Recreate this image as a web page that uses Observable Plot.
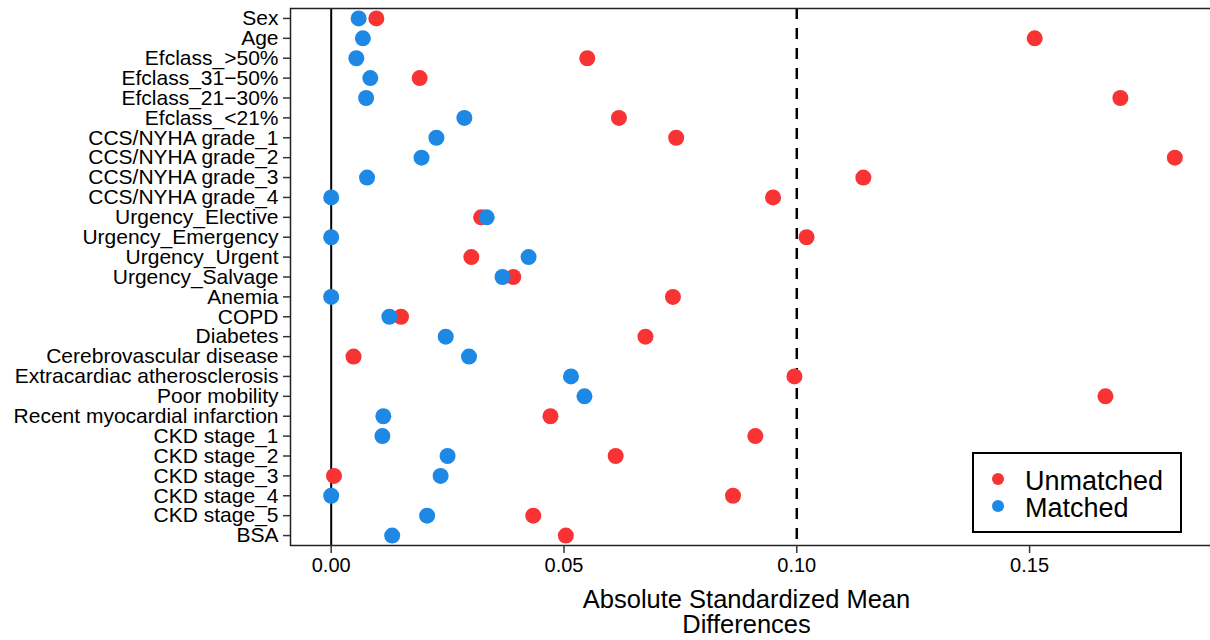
<!DOCTYPE html>
<html>
<head>
<meta charset="utf-8">
<script src="https://cdn.jsdelivr.net/npm/d3@7"></script>
<script src="https://cdn.jsdelivr.net/npm/@observablehq/plot@0.6"></script>
<style>
html, body { margin: 0; padding: 0; background: #fff; overflow: hidden; }
#wrap { position: relative; width: 1210px; height: 640px; overflow: hidden; font-family: "Liberation Sans", Arial, sans-serif; }
#wrap svg { display: block; max-width: none !important; }
.legend { position: absolute; left: 972px; top: 452px; width: 210px; height: 81px; box-sizing: border-box; border: 2px solid #000; background: #fff; }
.legend .dot { position: absolute; width: 12px; height: 12px; border-radius: 50%; }
.legend .lab { position: absolute; font-size: 27px; line-height: 26px; color: #000; white-space: nowrap; }
</style>
</head>
<body>
<div id="wrap"></div>
<script>
const variables = [
  "Sex", "Age", "Efclass_>50%", "Efclass_31−50%", "Efclass_21−30%", "Efclass_<21%",
  "CCS/NYHA grade_1", "CCS/NYHA grade_2", "CCS/NYHA grade_3", "CCS/NYHA grade_4",
  "Urgency_Elective", "Urgency_Emergency", "Urgency_Urgent", "Urgency_Salvage",
  "Anemia", "COPD", "Diabetes", "Cerebrovascular disease", "Extracardiac atherosclerosis",
  "Poor mobility", "Recent myocardial infarction", "CKD stage_1", "CKD stage_2",
  "CKD stage_3", "CKD stage_4", "CKD stage_5", "BSA"
];
const unmatched = [
  0.0097, 0.1511, 0.0550, 0.0190, 0.1695, 0.0618,
  0.0741, 0.1812, 0.1143, 0.0949,
  0.0322, 0.1021, 0.0301, 0.0391,
  0.0734, 0.0150, 0.0675, 0.0048, 0.0995,
  0.1663, 0.0471, 0.0911, 0.0611,
  0.0006, 0.0863, 0.0434, 0.0504
];
const matched = [
  0.0059, 0.0068, 0.0054, 0.0084, 0.0075, 0.0286,
  0.0226, 0.0194, 0.0077, 0.0000,
  0.0334, 0.0000, 0.0424, 0.0368,
  0.0000, 0.0125, 0.0246, 0.0296, 0.0515,
  0.0544, 0.0112, 0.0110, 0.0250,
  0.0235, 0.0000, 0.0206, 0.0131
];
const seriesNames = ["Unmatched", "Matched"];
const seriesColors = ["#F83333", "#1E88E5"];
const xTicks = [0, 0.05, 0.10, 0.15];
const threshold = 0.1;
const xLabel = "Absolute Standardized Mean\nDifferences";
const xDomain = [-0.00874, 0.18929];

const rows = [
  ...variables.map((v, i) => ({variable: v, group: seriesNames[0], value: unmatched[i]})),
  ...variables.map((v, i) => ({variable: v, group: seriesNames[1], value: matched[i]}))
];

const chart = Plot.plot({
  width: 1216,
  height: 640,
  marginLeft: 290,
  marginRight: 4,
  marginTop: 8,
  marginBottom: 95,
  style: {fontFamily: "Liberation Sans, Arial, sans-serif", background: "#fff", color: "#000", maxWidth: "none"},
  x: {domain: xDomain},
  y: {type: "point", domain: variables, padding: 0.5, round: false},
  color: {domain: seriesNames, range: seriesColors},
  marks: [
    Plot.ruleX([0], {stroke: "#000", strokeWidth: 2}),
    Plot.ruleX([threshold], {stroke: "#000", strokeWidth: 2.5, strokeDasharray: "11,9"}),
    Plot.dot(rows, {x: "value", y: "variable", fill: "group", r: 8}),
    Plot.frame({stroke: "#222", strokeWidth: 1.5}),
    Plot.axisY({tickSize: 7, tickPadding: 5, fontSize: 21, label: null, stroke: "#333", strokeWidth: 1.5}),
    Plot.axisX({ticks: xTicks, tickSize: 8, tickPadding: 4, fontSize: 20, label: null, stroke: "#333", strokeWidth: 1.5, tickFormat: d3.format(".2f")}),
    Plot.text([xLabel], {text: d => d, frameAnchor: "bottom", lineAnchor: "top", dy: 45, dx: -5, fontSize: 25.5, lineHeight: 0.98, fill: "#000"})
  ]
});

const wrap = document.getElementById("wrap");
wrap.appendChild(chart);

const legend = document.createElement("div");
legend.className = "legend";
const dotTops = [19, 46];
const labTops = [14, 41];
seriesNames.forEach((name, i) => {
  const dot = document.createElement("div");
  dot.className = "dot";
  dot.style.left = "18px";
  dot.style.top = dotTops[i] + "px";
  dot.style.background = seriesColors[i];
  legend.appendChild(dot);
  const lab = document.createElement("div");
  lab.className = "lab";
  lab.style.left = "51px";
  lab.style.top = labTops[i] + "px";
  lab.textContent = name;
  legend.appendChild(lab);
});
wrap.appendChild(legend);
</script>
</body>
</html>
